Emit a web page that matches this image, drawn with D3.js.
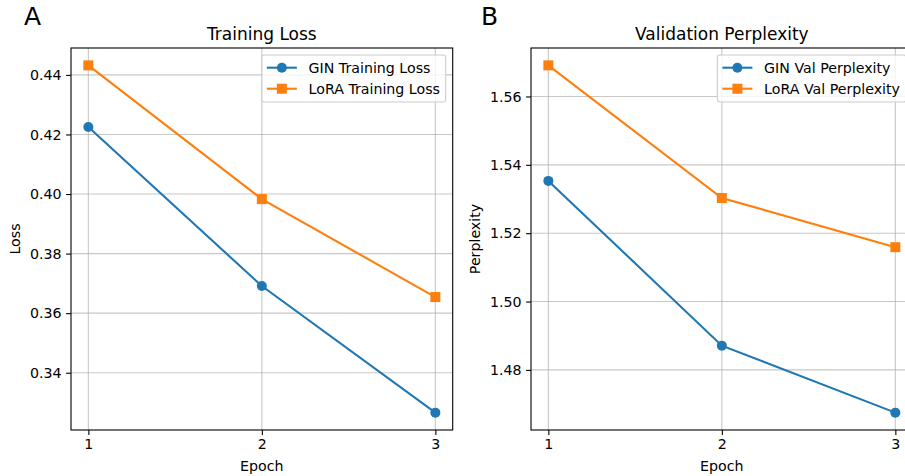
<!DOCTYPE html>
<html>
<head>
<meta charset="utf-8">
<script src="https://cdn.jsdelivr.net/npm/d3@7/dist/d3.min.js"></script>
<style>
  html, body { margin: 0; padding: 0; background: #fff; overflow: hidden; }
  svg { display: block; font-family: "DejaVu Sans", sans-serif; }
</style>
</head>
<body>
<svg id="chart" width="905" height="476"></svg>
<script>
// ---- data ----
const epochs = [1, 2, 3];
const ginTrainLoss = [0.4225, 0.3691, 0.3266];
const loraTrainLoss = [0.4432, 0.3983, 0.3654];
const ginValPpl = [1.5353, 1.4871, 1.4675];
const loraValPpl = [1.5691, 1.5303, 1.5159];
const lossTicks = [0.34, 0.36, 0.38, 0.40, 0.42, 0.44];
const pplTicks = [1.48, 1.50, 1.52, 1.54, 1.56];
const xTicks = [1, 2, 3];

const blue = "#1f77b4", orange = "#ff7f0e";
const FS = "14.2px";
const svg = d3.select("#chart");

function panel(opts) {
  const { left, right, top, bottom, letter, letterX, title, ylabel, ylabelX,
          s1, s2, n1, n2, yTicks } = opts;
  const x = d3.scaleLinear().domain([0.9, 3.1]).range([left, right]);
  const all = s1.concat(s2);
  const lo = d3.min(all), hi = d3.max(all), m = (hi - lo) * 0.05;
  const y = d3.scaleLinear().domain([lo - m, hi + m]).range([bottom, top]);
  const g = svg.append("g");

  // grid
  g.append("g").selectAll("line.gx").data(xTicks).join("line")
    .attr("x1", d => x(d)).attr("x2", d => x(d)).attr("y1", top).attr("y2", bottom)
    .attr("stroke", "#b0b0b0").attr("stroke-opacity", 0.7).attr("stroke-width", 1.1);
  g.append("g").selectAll("line.gy").data(yTicks).join("line")
    .attr("y1", d => y(d)).attr("y2", d => y(d)).attr("x1", left).attr("x2", right)
    .attr("stroke", "#b0b0b0").attr("stroke-opacity", 0.7).attr("stroke-width", 1.1);

  // axes
  const xa = g.append("g").attr("transform", `translate(0,${bottom})`)
    .call(d3.axisBottom(x).tickValues(xTicks).tickFormat(d3.format("d")).tickSize(4.9).tickPadding(4.5));
  const ya = g.append("g").attr("transform", `translate(${left},0)`)
    .call(d3.axisLeft(y).tickValues(yTicks).tickFormat(d3.format(".2f")).tickSize(4.9).tickPadding(4.5));
  [xa, ya].forEach(a => {
    a.select(".domain").remove();
    a.selectAll("line").attr("stroke", "#000").attr("stroke-width", 1.1);
    a.selectAll("text").attr("font-size", FS).attr("fill", "#000")
      .attr("font-family", "DejaVu Sans");
  });

  // frame
  g.append("rect").attr("x", left).attr("y", top).attr("width", right - left).attr("height", bottom - top)
    .attr("fill", "none").attr("stroke", "#000").attr("stroke-width", 1.1);

  // lines
  const line = d3.line().x((d, i) => x(epochs[i])).y(d => y(d));
  g.append("path").datum(s1).attr("d", line).attr("fill", "none").attr("stroke", blue).attr("stroke-width", 2.1);
  g.append("path").datum(s2).attr("d", line).attr("fill", "none").attr("stroke", orange).attr("stroke-width", 2.1);
  g.selectAll("circle.m").data(s1).join("circle")
    .attr("cx", (d, i) => x(epochs[i])).attr("cy", d => y(d)).attr("r", 5).attr("fill", blue);
  g.selectAll("rect.m").data(s2).join("rect")
    .attr("x", (d, i) => x(epochs[i]) - 5).attr("y", d => y(d) - 5)
    .attr("width", 10).attr("height", 10).attr("fill", orange);

  // titles & labels
  g.append("text").attr("x", (left + right) / 2).attr("y", 40).attr("text-anchor", "middle")
    .attr("font-size", "17px").text(title);
  g.append("text").attr("x", letterX).attr("y", 25).attr("font-size", "25px").text(letter);
  g.append("text").attr("x", (left + right) / 2).attr("y", 470.5).attr("text-anchor", "middle")
    .attr("font-size", FS).text("Epoch");
  g.append("text").attr("transform", `translate(${ylabelX},${(top + bottom) / 2}) rotate(-90)`)
    .attr("text-anchor", "middle").attr("font-size", FS).text(ylabel);

  // legend
  const lg = g.append("g");
  const box = lg.append("rect");
  const t1 = lg.append("text").attr("font-size", FS).text(n1);
  const t2 = lg.append("text").attr("font-size", FS).text(n2);
  const tw = Math.max(t1.node().getComputedTextLength(), t2.node().getComputedTextLength());
  const bw = 46.7 + tw + 5.7, bh = 47;
  const bx = right - 7 - bw, by = top + 7;
  box.attr("x", bx).attr("y", by).attr("width", bw).attr("height", bh).attr("rx", 2.5)
    .attr("fill", "#fff").attr("fill-opacity", 0.8).attr("stroke", "#cccccc").attr("stroke-width", 1.1);
  const rows = [[by + 12.7, blue, "c", t1], [by + 33.7, orange, "s", t2]];
  rows.forEach(([ry, col, mk, t]) => {
    lg.append("line").attr("x1", bx + 5).attr("x2", bx + 35).attr("y1", ry).attr("y2", ry)
      .attr("stroke", col).attr("stroke-width", 2.1);
    if (mk === "c") lg.append("circle").attr("cx", bx + 20).attr("cy", ry).attr("r", 5).attr("fill", col);
    else lg.append("rect").attr("x", bx + 15).attr("y", ry - 5).attr("width", 10).attr("height", 10).attr("fill", col);
    t.attr("x", bx + 46.7).attr("y", ry + 5).raise();
  });
}

panel({ left: 71, right: 452.7, top: 48, bottom: 430, letter: "A", letterX: 24, title: "Training Loss",
  ylabel: "Loss", ylabelX: 20, s1: ginTrainLoss, s2: loraTrainLoss,
  n1: "GIN Training Loss", n2: "LoRA Training Loss", yTicks: lossTicks });
panel({ left: 531, right: 912.7, top: 48, bottom: 430, letter: "B", letterX: 481, title: "Validation Perplexity",
  ylabel: "Perplexity", ylabelX: 480, s1: ginValPpl, s2: loraValPpl,
  n1: "GIN Val Perplexity", n2: "LoRA Val Perplexity", yTicks: pplTicks });
</script>
</body>
</html>
